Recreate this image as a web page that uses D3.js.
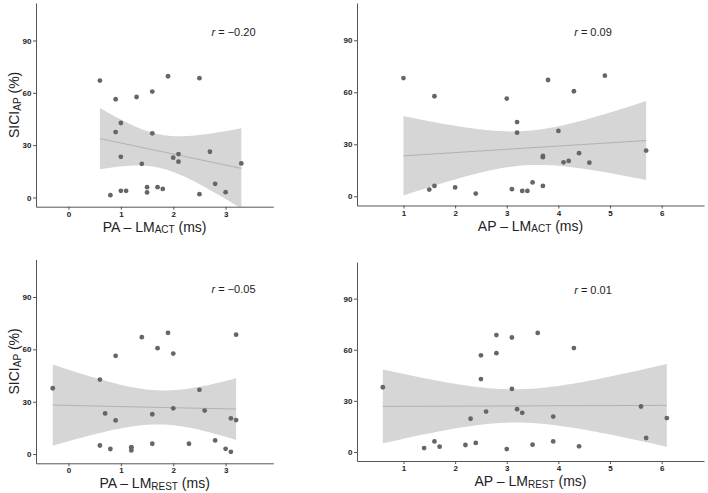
<!DOCTYPE html>
<html>
<head>
<meta charset="utf-8">
<script src="https://cdn.jsdelivr.net/npm/d3@7"></script>
<style>
  html, body { margin: 0; padding: 0; background: #fff; }
  svg { display: block; font-family: "Liberation Sans", Arial, sans-serif; }
</style>
</head>
<body>
<svg id="chart" width="708" height="493"></svg>
<script>
// ---------------- data ----------------
const paActX = [0.6, 0.9, 1.3, 1.0, 0.9, 1.0, 1.4, 0.8, 1.0, 1.1, 1.5, 1.5, 1.6, 1.9, 2.5, 1.6, 2.0, 2.1, 2.1, 2.7, 3.3, 1.7, 1.8, 2.5, 2.8, 3.0];
const paActY = [67.0, 56.3, 57.6, 42.7, 37.5, 23.3, 19.3, 1.3, 3.8, 3.8, 5.9, 2.9, 60.7, 69.5, 68.4, 36.8, 22.8, 24.9, 20.5, 26.2, 19.5, 5.9, 4.9, 1.9, 7.8, 3.0];

const apActX = [1.0, 1.6, 1.5, 1.6, 2.0, 2.4, 3.0, 3.2, 3.2, 3.1, 3.3, 3.4, 3.5, 3.7, 3.7, 3.7, 3.8, 4.0, 4.1, 4.2, 4.3, 4.4, 4.6, 4.9, 5.7];
const apActY = [68.2, 57.7, 3.9, 6.0, 5.1, 1.6, 56.4, 42.8, 36.7, 4.1, 3.1, 3.1, 8.0, 23.3, 22.6, 6.0, 67.1, 37.7, 19.6, 20.4, 60.6, 24.9, 19.4, 69.6, 26.4];

const paRestX = [-0.3, 0.6, 0.9, 0.7, 0.9, 0.6, 0.8, 1.2, 1.2, 1.2, 1.4, 1.9, 1.7, 2.0, 3.2, 2.5, 2.0, 1.6, 2.6, 3.1, 3.2, 1.6, 2.3, 2.8, 3.0, 3.1];
const paRestY = [37.7, 42.7, 56.3, 23.3, 19.3, 4.9, 2.9, 3.8, 3.8, 2.1, 67.0, 69.5, 60.7, 57.6, 68.4, 36.8, 26.2, 22.8, 24.9, 20.5, 19.5, 5.9, 5.9, 7.8, 3.0, 1.3];

const apRestX = [0.6, 1.4, 1.6, 1.7, 2.2, 2.4, 2.3, 2.5, 2.5, 2.6, 2.8, 2.8, 3.0, 3.1, 3.1, 3.2, 3.3, 3.6, 4.3, 3.9, 5.6, 6.1, 3.5, 3.9, 4.4, 5.7];
const apRestY = [38.0, 2.3, 6.2, 3.1, 4.1, 5.3, 19.5, 56.7, 42.8, 23.7, 68.6, 58.0, 1.7, 67.2, 37.0, 25.1, 23.0, 69.9, 61.0, 20.8, 26.7, 19.9, 4.3, 6.2, 3.3, 8.2];

const yTicks = [0, 30, 60, 90];
const xTicksPA = [0, 1, 2, 3];
const xTicksAP = [1, 2, 3, 4, 5, 6];
const rLabels = ["\u22120.20", "0.09", "\u22120.05", "0.01"];
const xLabelMain = ["PA \u2013 LM", "AP \u2013 LM", "PA \u2013 LM", "AP \u2013 LM"];
const xLabelSub = ["ACT", "ACT", "REST", "REST"];

// ---------------- layout ----------------
const yDomain = [-5.3, 111.5];
const panels = [
  { xs: paActX, ys: paActY, xTicks: xTicksPA, xDomain: [-0.62, 3.91], left: 36, right: 273.3, top: 3, bottom: 206.7, ylab: true, annX: 3.15 },
  { xs: apActX, ys: apActY, xTicks: xTicksAP, xDomain: [0.10, 6.82], left: 357, right: 704, top: 3, bottom: 205.5, ylab: false, annX: 4.67 },
  { xs: paRestX, ys: paRestY, xTicks: xTicksPA, xDomain: [-0.62, 3.91], left: 36, right: 273.3, top: 259.5, bottom: 463.3, ylab: true, annX: 3.15 },
  { xs: apRestX, ys: apRestY, xTicks: xTicksAP, xDomain: [0.10, 6.82], left: 357, right: 704, top: 262, bottom: 461, ylab: false, annX: 4.67 }
];
const annY = 92.5;

function tQuant975(df) {
  const z = 1.959964;
  const g1 = (Math.pow(z, 3) + z) / 4;
  const g2 = (5 * Math.pow(z, 5) + 16 * Math.pow(z, 3) + 3 * z) / 96;
  const g3 = (3 * Math.pow(z, 7) + 19 * Math.pow(z, 5) + 17 * Math.pow(z, 3) - 15 * z) / 384;
  return z + g1 / df + g2 / (df * df) + g3 / (df * df * df);
}

function linFit(xs, ys) {
  const n = xs.length;
  const mx = d3.mean(xs), my = d3.mean(ys);
  let sxx = 0, sxy = 0;
  for (let i = 0; i < n; i++) { sxx += (xs[i] - mx) ** 2; sxy += (xs[i] - mx) * (ys[i] - my); }
  const b = sxy / sxx, a = my - b * mx;
  let sse = 0;
  for (let i = 0; i < n; i++) sse += (ys[i] - a - b * xs[i]) ** 2;
  const s = Math.sqrt(sse / (n - 2));
  const t = tQuant975(n - 2);
  return { a, b, mx, sxx, s, t, n };
}

const svg = d3.select("#chart");
const font = '"Liberation Sans", Arial, sans-serif';

panels.forEach((p, i) => {
  const x = d3.scaleLinear().domain(p.xDomain).range([p.left, p.right]);
  const y = d3.scaleLinear().domain(yDomain).range([p.bottom, p.top]);
  const g = svg.append("g");

  const clipId = "clip" + i;
  svg.append("clipPath").attr("id", clipId).append("rect")
    .attr("x", p.left).attr("y", p.top).attr("width", p.right - p.left).attr("height", p.bottom - p.top);

  const fit = linFit(p.xs, p.ys);
  const [x0, x1] = d3.extent(p.xs);
  const grid = d3.range(0, 81).map(k => x0 + (x1 - x0) * k / 80);
  const band = grid.map(xv => {
    const yhat = fit.a + fit.b * xv;
    const se = fit.s * Math.sqrt(1 / fit.n + (xv - fit.mx) ** 2 / fit.sxx);
    return { x: xv, lo: yhat - fit.t * se, hi: yhat + fit.t * se, y: yhat };
  });

  const pl = g.append("g").attr("clip-path", `url(#${clipId})`);
  pl.append("path").datum(band)
    .attr("d", d3.area().x(d => x(d.x)).y0(d => y(d.lo)).y1(d => y(d.hi)))
    .attr("fill", "#d6d6d6");
  pl.append("path").datum(band)
    .attr("d", d3.line().x(d => x(d.x)).y(d => y(d.y)))
    .attr("fill", "none").attr("stroke", "#acacac").attr("stroke-width", 0.9);

  pl.selectAll("circle").data(p.xs.map((v, k) => [v, p.ys[k]])).join("circle")
    .attr("cx", d => x(d[0])).attr("cy", d => y(d[1])).attr("r", 2.4)
    .attr("fill", "#666666");

  // axes
  const ax = g.append("g").attr("transform", `translate(0,${p.bottom})`)
    .call(d3.axisBottom(x).tickValues(p.xTicks).tickFormat(d3.format("d")).tickSize(3).tickSizeOuter(0).tickPadding(1.5));
  const ay = g.append("g").attr("transform", `translate(${p.left},0)`)
    .call(d3.axisLeft(y).tickValues(yTicks).tickFormat(d3.format("d")).tickSize(3).tickSizeOuter(0).tickPadding(1.5));
  [ax, ay].forEach(a => {
    a.select(".domain").attr("stroke", "#555").attr("stroke-width", 1);
    a.selectAll(".tick line").attr("stroke", "#555").attr("stroke-width", 1);
    a.selectAll(".tick text").attr("fill", "#222").attr("font-weight", "bold")
      .attr("font-size", "8px").attr("font-family", font);
  });

  // x label
  const xt = g.append("text")
    .attr("x", (p.left + p.right) / 2).attr("y", p.bottom + 25)
    .attr("text-anchor", "middle").attr("font-size", "14px").attr("fill", "#222")
    .attr("font-family", font);
  xt.append("tspan").text(xLabelMain[i]);
  xt.append("tspan").attr("font-size", "10px").attr("dy", 1.5).text(xLabelSub[i]);
  xt.append("tspan").attr("dy", -1.5).text(" (ms)");

  // y label
  if (p.ylab) {
    const yc = (p.top + p.bottom) / 2;
    const yt = g.append("text")
      .attr("transform", `translate(19,${yc}) rotate(-90)`)
      .attr("text-anchor", "middle").attr("font-size", "14px").attr("fill", "#222")
      .attr("font-family", font);
    yt.append("tspan").text("SICI");
    yt.append("tspan").attr("font-size", "10px").attr("dy", 1.5).text("AP");
    yt.append("tspan").attr("dy", -1.5).text(" (%)");
  }

  // r annotation
  const rt = g.append("text")
    .attr("x", x(p.annX)).attr("y", y(annY))
    .attr("text-anchor", "middle").attr("font-size", "11px").attr("fill", "#222")
    .attr("font-family", font);
  rt.append("tspan").attr("font-style", "italic").text("r");
  rt.append("tspan").text(" = " + rLabels[i]);
});
</script>
</body>
</html>
